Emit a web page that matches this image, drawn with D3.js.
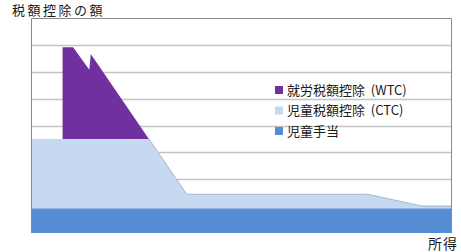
<!DOCTYPE html>
<html>
<head>
<meta charset="utf-8">
<script src="https://cdn.jsdelivr.net/npm/d3@7"></script>
<style>
  html, body { margin: 0; padding: 0; background: #fff; }
  text { font-family: "Noto Sans CJK JP", "Noto Sans", sans-serif; fill: #1a1a1a; white-space: pre; }
</style>
</head>
<body>
<div id="chart"></div>
<script>
// income on the x axis (arbitrary units), stacked amounts on y (grid units)
const income       = [0,    7.5,  7.5,  10,   13.85, 14.2, 28,   37,   80,   93,   100];
const childBenefit = [0.92, 0.92, 0.92, 0.92, 0.92,  0.92, 0.92, 0.92, 0.92, 0.92, 0.92];
const ctc          = [2.58, 2.58, 2.58, 2.58, 2.58,  2.58, 2.58, 0.52, 0.52, 0.08, 0.08];
const wtc          = [0,    0,    3.41, 3.41, 2.57,  3.16, 0,    0,    0,    0,    0];

const seriesKeys   = ['benefit', 'ctc', 'wtc'];
const seriesColors = { benefit: '#558ed5', ctc: '#c6d9f0', wtc: '#7030a0' };
const legendLabels = ['就労税額控除  (WTC)', '児童税額控除  (CTC)', '児童手当'];
const legendKeys   = ['wtc', 'ctc', 'benefit'];
const gridTicks    = [1, 2, 3, 4, 5, 6, 7];

const width = 461, height = 252;
const plot = { left: 31, right: 452, top: 18, bottom: 233 };

const rows = income.map((x, i) => ({ x: x, benefit: childBenefit[i], ctc: ctc[i], wtc: wtc[i] }));

const x = d3.scaleLinear().domain([0, 100]).range([plot.left, plot.right]);
const y = d3.scaleLinear().domain([0, 8]).range([plot.bottom, plot.top]);

const svg = d3.select('#chart').append('svg')
  .attr('width', width)
  .attr('height', height);

// gridlines behind the areas
svg.append('g')
  .selectAll('line')
  .data(gridTicks).enter()
  .append('line')
  .attr('x1', plot.left).attr('x2', plot.right)
  .attr('y1', d => Math.round(y(d)) + 0.5)
  .attr('y2', d => Math.round(y(d)) + 0.5)
  .attr('stroke', '#c4c4c4')
  .attr('stroke-width', 1.5);

const stacked = d3.stack().keys(seriesKeys)(rows);

const area = d3.area()
  .x(d => x(d.data.x))
  .y0(d => y(d[0]))
  .y1(d => y(d[1]));

svg.append('g')
  .selectAll('path')
  .data(stacked).enter()
  .append('path')
  .attr('fill', d => seriesColors[d.key])
  .attr('d', area);

// faint edge on top of the CTC layer
const ctcLayer = stacked.find(s => s.key === 'ctc');
svg.append('path')
  .datum(ctcLayer.filter(d => d.data.x >= 28))
  .attr('fill', 'none')
  .attr('stroke', '#a9b8cc')
  .attr('stroke-width', 1)
  .attr('d', d3.line().x(d => x(d.data.x)).y(d => y(d[1])));

// plot frame: left, top, right
svg.append('path')
  .attr('fill', 'none')
  .attr('stroke', '#8a8a8a')
  .attr('stroke-width', 1)
  .attr('d', `M${plot.left + 0.5},${plot.bottom}V${plot.top + 0.5}H${plot.right - 0.5}V${plot.bottom}`);

// title and x label
svg.append('text')
  .attr('x', 12).attr('y', 15)
  .attr('font-size', 13)
  .attr('letter-spacing', 2.5)
  .text('税額控除の額');

svg.append('text')
  .attr('x', 458).attr('y', 249)
  .attr('text-anchor', 'end')
  .attr('font-size', 14)
  .attr('letter-spacing', 1)
  .text('所得');

// legend
const legend = svg.append('g')
  .selectAll('g')
  .data(legendKeys).enter()
  .append('g')
  .attr('transform', (d, i) => `translate(275, ${90 + i * 20.5})`);

legend.append('rect')
  .attr('x', 0).attr('y', -4)
  .attr('width', 8).attr('height', 8)
  .attr('fill', d => seriesColors[d]);

legend.append('text')
  .attr('x', 12).attr('y', 0)
  .attr('dy', '0.36em')
  .attr('font-size', 13)
  .text((d, i) => legendLabels[i]);
</script>
</body>
</html>
